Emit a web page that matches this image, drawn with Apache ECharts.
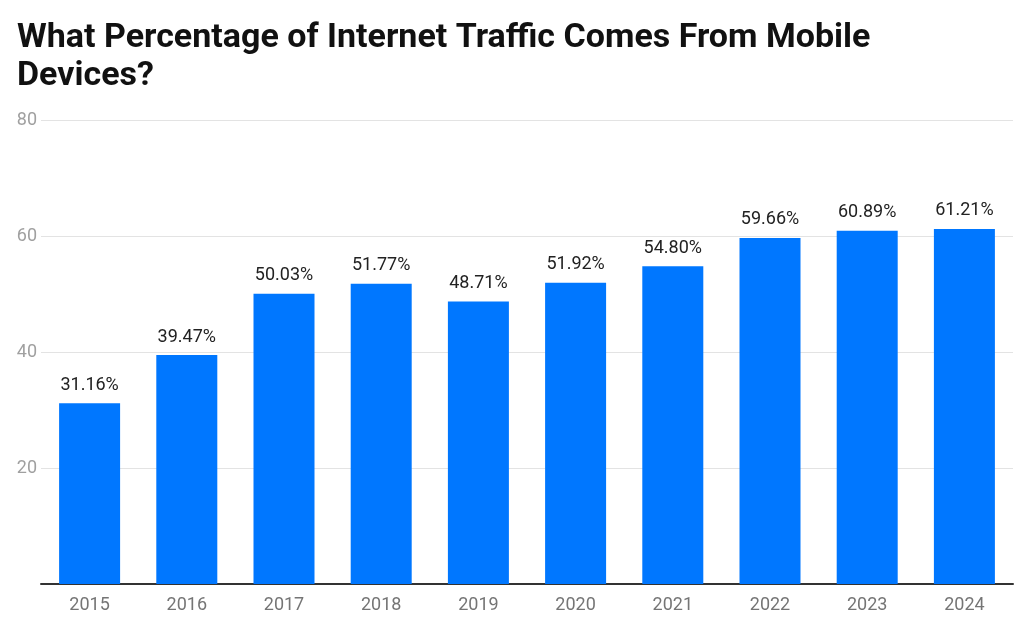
<!DOCTYPE html>
<html>
<head>
<meta charset="utf-8">
<style>
  html, body { margin: 0; padding: 0; background: #fff; }
  #chart { width: 1024px; height: 644px; }
</style>
<script src="https://cdn.jsdelivr.net/npm/echarts@6/dist/echarts.min.js"></script>
</head>
<body>
<div id="chart"></div>
<script>
var years = ['2015', '2016', '2017', '2018', '2019', '2020', '2021', '2022', '2023', '2024'];
var mobileShare = [31.16, 39.47, 50.03, 51.77, 48.71, 51.92, 54.80, 59.66, 60.89, 61.21];
var yTicks = [0, 20, 40, 60, 80];

var chart = echarts.init(document.getElementById('chart'));

var option = {
  animation: false,
  title: {
    text: 'What Percentage of Internet Traffic Comes From Mobile\nDevices?',
    left: 12,
    top: 14,
    textStyle: {
      fontFamily: 'Roboto',
      fontSize: 34,
      fontWeight: 'bold',
      color: '#111',
      lineHeight: 38
    }
  },
  grid: {
    left: 41,
    right: 11,
    top: 120,
    bottom: 60
  },
  xAxis: {
    type: 'category',
    data: years,
    axisTick: { show: false },
    axisLine: { lineStyle: { color: '#333', width: 2 } },
    axisLabel: {
      color: '#757575',
      fontFamily: 'Roboto',
      fontSize: 18,
      margin: 12
    }
  },
  yAxis: {
    type: 'value',
    min: yTicks[0],
    max: yTicks[yTicks.length - 1],
    interval: 20,
    axisLine: { show: false },
    axisTick: { show: false },
    splitLine: { lineStyle: { color: '#e3e3e3', width: 1 } },
    axisLabel: {
      color: '#a0a0a0',
      fontFamily: 'Roboto',
      fontSize: 18,
      margin: 4,
      showMinLabel: false
    }
  },
  series: [{
    type: 'bar',
    data: mobileShare,
    barWidth: 61,
    itemStyle: { color: '#0077ff' },
    label: {
      show: true,
      position: 'top',
      distance: 9,
      color: '#222',
      fontFamily: 'Roboto',
      fontSize: 18,
      formatter: function (p) { return p.value.toFixed(2) + '%'; }
    }
  }]
};

chart.setOption(option);
</script>
</body>
</html>
